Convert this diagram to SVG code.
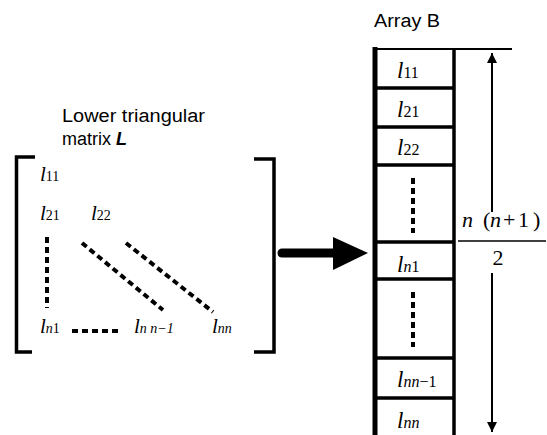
<svg xmlns="http://www.w3.org/2000/svg" width="547" height="435" viewBox="0 0 547 435">
<style>
.lbl{font-family:"Liberation Sans",Arial,sans-serif;font-size:18px;fill:#000}
.mt{font-family:"Liberation Serif","Times New Roman",serif;font-size:21px;fill:#000}
.at{font-family:"Liberation Serif","Times New Roman",serif;font-size:23px;fill:#000}
.ft{font-family:"Liberation Serif","Times New Roman",serif;font-size:22px;fill:#000}
.i{font-style:italic}
.s{font-size:14px}
.as{font-size:16px}
.ln{stroke:#000;fill:none}
.br{stroke:#000;stroke-width:3.5;fill:none}
.dash{stroke:#000;stroke-width:4;stroke-dasharray:6 4;fill:none}
</style>
<defs>
<marker id="ah" viewBox="0 0 10 10" refX="10" refY="5" markerWidth="10" markerHeight="10" markerUnits="userSpaceOnUse" orient="auto">
<path d="M0,0 L10,5 L0,10 Z" fill="#000"/>
</marker>
</defs>

<g id="matrix">
<text class="lbl" x="62" y="122" textLength="143" lengthAdjust="spacingAndGlyphs">Lower triangular</text>
<text class="lbl" x="62" y="145">matrix <tspan font-weight="bold" font-style="italic">L</tspan></text>
<path class="br" d="M35,157 H16.5 V352 H32"/>
<path class="br" d="M254,159 H274 V352 H254"/>
<text class="mt" x="40" y="181"><tspan class="i">l</tspan><tspan class="s">11</tspan></text>
<text class="mt" x="40" y="220"><tspan class="i">l</tspan><tspan class="s">21</tspan></text>
<text class="mt" x="91" y="220"><tspan class="i">l</tspan><tspan class="s">22</tspan></text>
<text class="mt" x="40" y="333"><tspan class="i">l</tspan><tspan class="s"><tspan class="i">n</tspan>1</tspan></text>
<text class="mt" x="134" y="333"><tspan class="i">l</tspan><tspan class="s i">n n−1</tspan></text>
<text class="mt" x="212" y="333"><tspan class="i">l</tspan><tspan class="s i">nn</tspan></text>
<path class="dash" d="M47,237 V308"/>
<path class="dash" stroke-width="3.5" d="M82,243 L163,310"/>
<path class="dash" stroke-width="3.5" d="M126,243 L213,312"/>
<path class="dash" d="M72,331 H119" stroke-dasharray="6 3"/>
</g>

<g id="connectors">
<path d="M282,253 H336" stroke="#000" stroke-width="9" stroke-linecap="round"/>
<path d="M333,237 L368,253 L333,270 Z" fill="#000"/>
</g>

<g id="array">
<text class="lbl" x="374" y="27" textLength="66" lengthAdjust="spacingAndGlyphs">Array B</text>
<path class="ln" stroke-width="2" d="M375,49 H512"/>
<path class="ln" stroke-width="5" d="M375,47 V435"/>
<path class="ln" stroke-width="3.5" d="M454,49 V435"/>
<path class="ln" stroke-width="3.5" d="M375,88 H454 M375,127 H454 M375,165 H454 M375,242 H454 M375,279 H454 M375,358 H454 M375,398 H454"/>
<text class="at" x="397" y="78"><tspan class="i">l</tspan><tspan class="as">11</tspan></text>
<text class="at" x="397" y="117"><tspan class="i">l</tspan><tspan class="as">21</tspan></text>
<text class="at" x="397" y="155"><tspan class="i">l</tspan><tspan class="as">22</tspan></text>
<path class="dash" d="M413,178 V233"/>
<text class="at" x="397" y="272"><tspan class="i">l</tspan><tspan class="as"><tspan class="i">n</tspan>1</tspan></text>
<path class="dash" d="M413,292 V347"/>
<text class="at" x="397" y="387"><tspan class="i">l</tspan><tspan class="as"><tspan class="i">nn</tspan>−1</tspan></text>
<text class="at" x="397" y="428"><tspan class="i">l</tspan><tspan class="as i">nn</tspan></text>
</g>

<g id="size">
<path class="ln" stroke-width="2" d="M492,212 V53" marker-end="url(#ah)"/>
<path class="ln" stroke-width="2" d="M492,273 V432" marker-end="url(#ah)"/>
<text class="ft" y="227"><tspan class="i" x="462">n</tspan><tspan x="483">(</tspan><tspan class="i" x="490">n</tspan><tspan x="503">+</tspan><tspan x="518">1</tspan><tspan x="533">)</tspan></text>
<path class="ln" stroke-width="1.5" d="M458,241 H546"/>
<text class="ft" x="498" y="265" text-anchor="middle">2</text>
</g>
</svg>
